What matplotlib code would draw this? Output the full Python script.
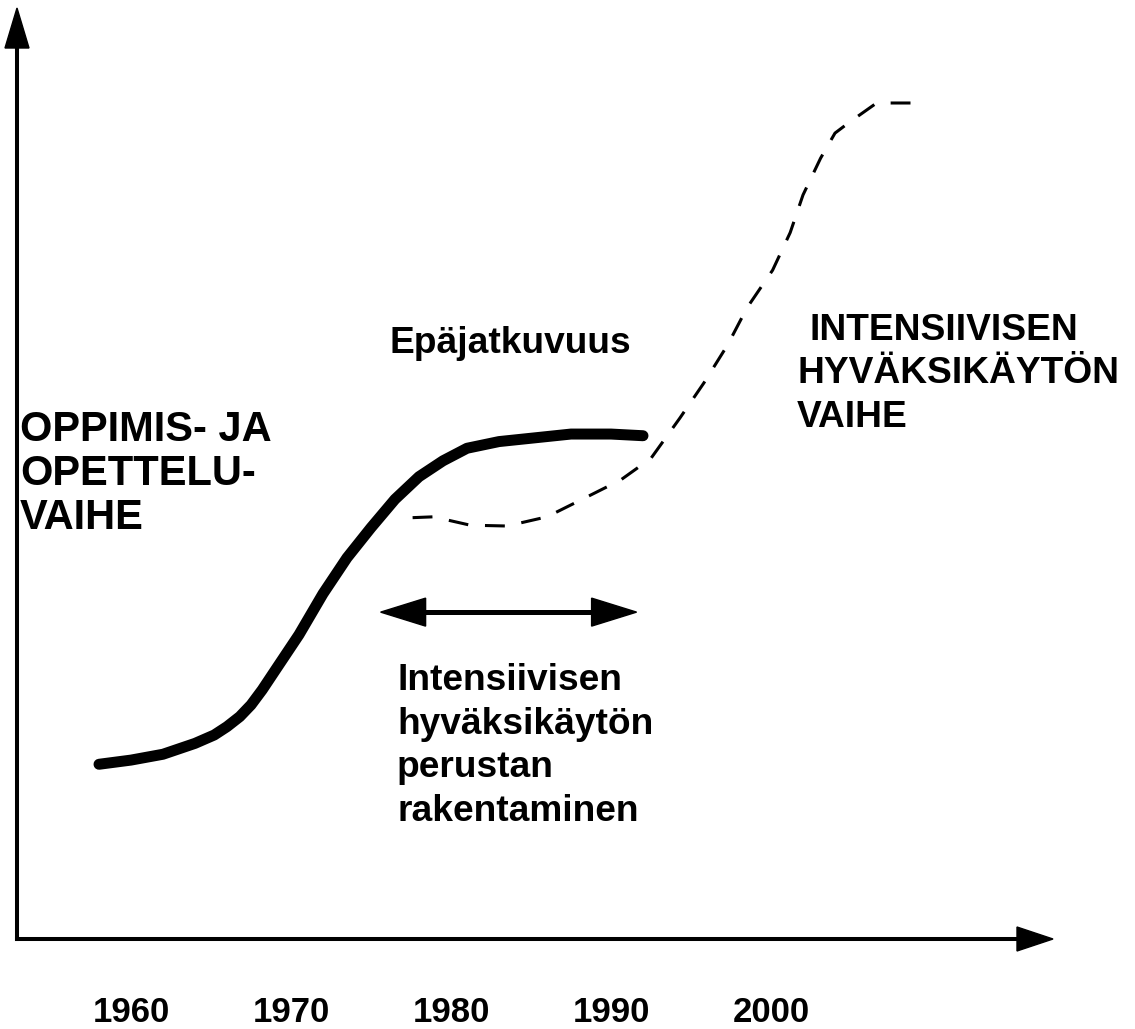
import matplotlib
matplotlib.use('Agg')
import matplotlib.pyplot as plt
from matplotlib.patches import Polygon
import numpy as np

# solid curve: learning phase (years, level)
solid_years = [1958.0, 1960.0, 1962.0, 1964.0, 1965.2, 1966.0, 1966.8, 1967.5, 1968.2,
               1969.0, 1970.5, 1972.0, 1973.5, 1975.0, 1976.5, 1978.0, 1979.5, 1981.0,
               1983.0, 1985.0, 1987.5, 1990.0, 1992.0]
solid_level = [20.9, 21.4, 22.1, 23.4, 24.4, 25.4, 26.6, 28.0, 29.8,
               32.1, 36.4, 41.3, 45.6, 49.2, 52.6, 55.3, 57.2, 58.7,
               59.5, 59.9, 60.4, 60.4, 60.2]

# dashed curve: intensive exploitation phase
dash_years = [1977.6, 1978.9, 1981.2, 1983.5, 1986.0, 1988.1, 1990.6, 1992.5, 1994.3,
              1995.8, 1997.3, 1998.5, 2000.1, 2001.2, 2002.0, 2003.1, 2004.0, 2004.9,
              2006.6, 2009.3]
dash_level = [50.4, 50.5, 49.5, 49.4, 50.5, 52.5, 54.9, 57.5, 62.3,
              66.5, 71.1, 75.5, 80.0, 84.5, 89.0, 93.4, 96.4, 97.7,
              100.0, 100.0]

# span of "building the base" period
span_years = [1975.6, 1991.6]
span_level = 39.1

tick_years = [1960, 1970, 1980, 1990, 2000]

W, H = 1135, 1029
fig = plt.figure(figsize=(W / 100, H / 100), dpi=100)
plt.rcParams['font.family'] = ['Liberation Sans', 'DejaVu Sans']

# data axes: years on x, level on y
ax = fig.add_axes([0, 0, 1, 1])
ax.set_xlim(1960 - 131 / 16, 1960 + (W - 131) / 16)
ax.set_ylim(-(H - 939) / 8.36, 939 / 8.36)
ax.axis('off')

ax.plot(solid_years, solid_level, color='black', lw=7.9,
        solid_capstyle='round', solid_joinstyle='round')
ax.plot(dash_years, dash_level, color='black', lw=2.2, dashes=(6.5, 5.5))

# pixel overlay for axes arrows and texts
ov = fig.add_axes([0, 0, 1, 1], facecolor='none')
ov.set_xlim(0, W)
ov.set_ylim(H, 0)
ov.axis('off')

# y axis
ov.plot([17, 17], [939, 44], color='black', lw=2.9)
ov.add_patch(Polygon([[17, 8], [5, 48], [29, 48]], closed=True, color='black'))
# x axis
ov.plot([17, 1020], [939, 939], color='black', lw=2.9)
ov.add_patch(Polygon([[1053, 939], [1017, 927], [1017, 951]], closed=True, color='black'))

# double arrow: span from data coords to overlay pixels
to_px = ax.transData + ov.transData.inverted()
(xl, ya), (xr, _) = to_px.transform([(span_years[0], span_level),
                                     (span_years[1], span_level)])
hl, hw = 45, 14
ov.plot([xl + hl - 2, xr - hl + 2], [ya, ya], color='black', lw=3.6)
ov.add_patch(Polygon([[xl, ya], [xl + hl, ya - hw], [xl + hl, ya + hw]],
                     closed=True, color='black'))
ov.add_patch(Polygon([[xr, ya], [xr - hl, ya - hw], [xr - hl, ya + hw]],
                     closed=True, color='black'))

# year labels
for yr in tick_years:
    ax.text(yr, -(1022 - 939) / 8.36, str(yr), ha='center', va='baseline',
            fontsize=25, fontweight='bold')

def lines(x, baselines, texts, fs):
    for b, t in zip(baselines, texts):
        ov.text(x, b, t, ha='left', va='baseline', fontsize=fs, fontweight='bold')

lines(20, [441, 485, 529], ['OPPIMIS- JA', 'OPETTELU-', 'VAIHE'], 30)
lines(390, [353], ['Epäjatkuvuus'], 26.7)
lines(810, [340], ['INTENSIIVISEN'], 26.7)
lines(797, [383, 427], ['HYVÄKSIKÄYTÖN', 'VAIHE'], 26.7)
lines(397, [690, 734, 777, 821],
      ['Intensiivisen', 'hyväksikäytön', 'perustan', 'rakentaminen'], 26.7)

fig.savefig('out.png', dpi=100)
